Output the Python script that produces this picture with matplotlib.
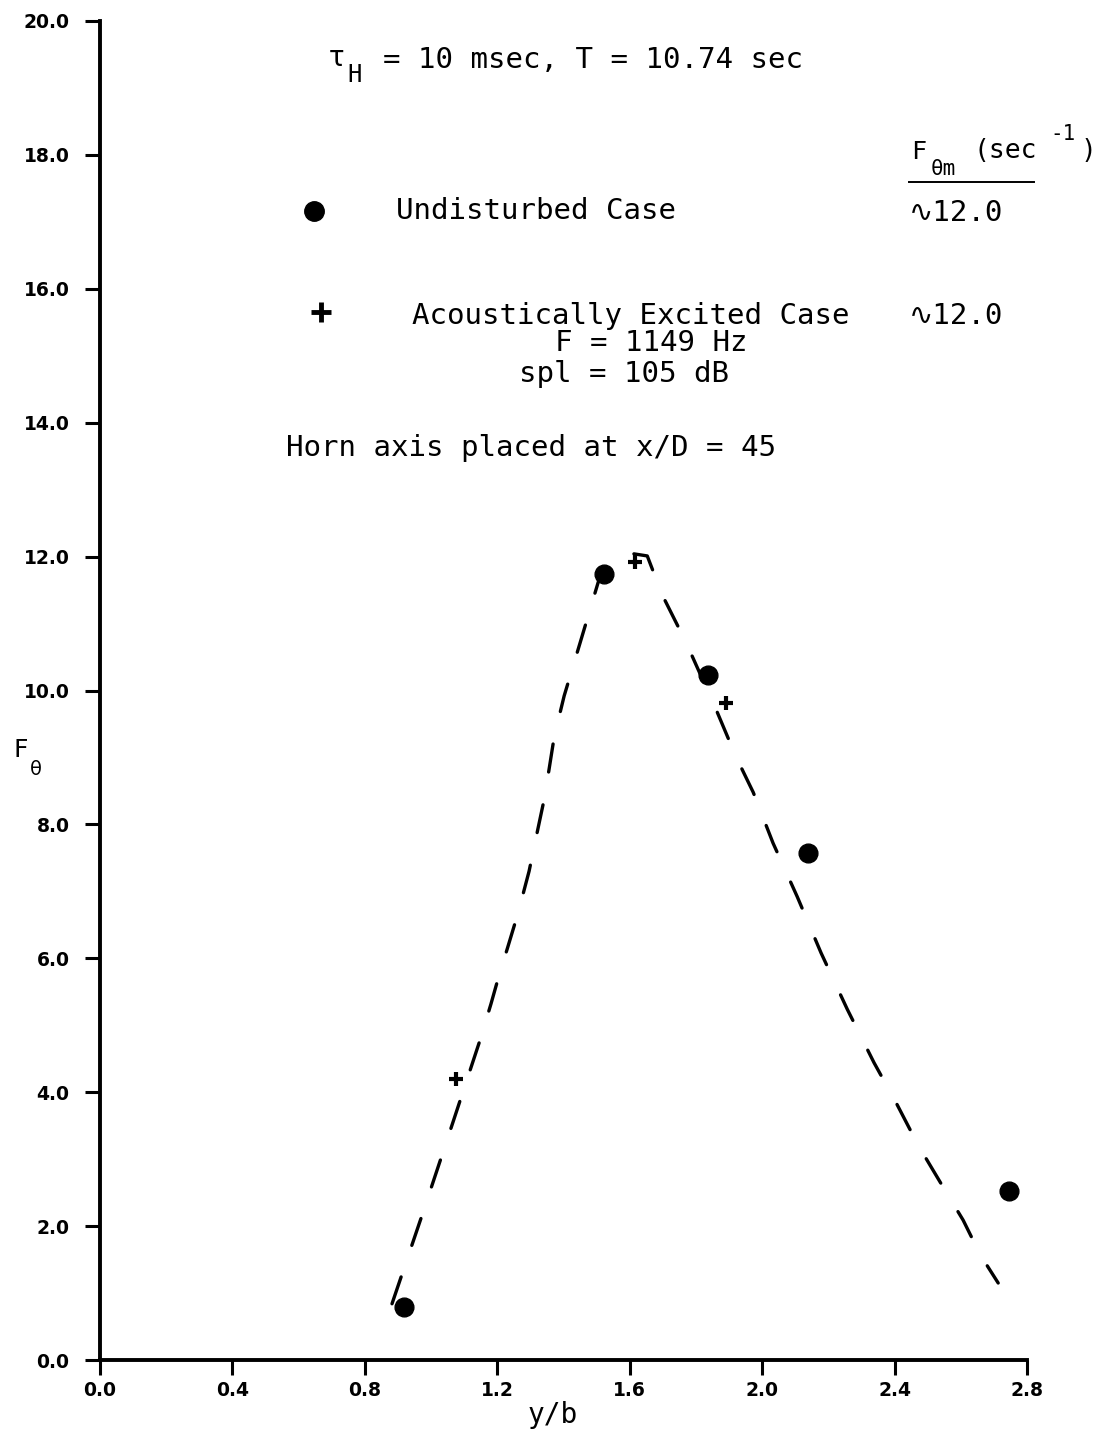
import matplotlib

matplotlib.use("Agg")
import matplotlib.pyplot as plt
from matplotlib.lines import Line2D

# dashed fit curve
curve_x = [0.882, 0.976, 1.066, 1.148, 1.181, 1.205, 1.230, 1.263, 1.296, 1.320,
           1.341, 1.356, 1.372, 1.402, 1.450, 1.505, 1.532, 1.562, 1.601, 1.653,
           1.698, 1.770, 1.864, 1.921, 1.973, 2.033, 2.106, 2.178, 2.257, 2.338,
           2.405, 2.471, 2.547, 2.607, 2.659, 2.713]
curve_y = [0.84, 2.21, 3.55, 4.78, 5.32, 5.74, 6.14, 6.68, 7.30, 7.87,
           8.36, 8.81, 9.31, 9.92, 10.71, 11.62, 11.87, 12.02, 12.05, 12.01,
           11.43, 10.72, 9.68, 9.01, 8.48, 7.72, 6.92, 6.08, 5.24, 4.44,
           3.84, 3.21, 2.58, 2.09, 1.57, 1.15]

# undisturbed case (filled dots)
undisturbed_x = [0.918, 1.523, 1.837, 2.139, 2.746]
undisturbed_y = [0.79, 11.74, 10.23, 7.57, 2.52]

# acoustically excited case (crosses)
excited_x = [1.076, 1.616, 1.891]
excited_y = [4.20, 11.92, 9.81]

xticks = [0.0, 0.4, 0.8, 1.2, 1.6, 2.0, 2.4, 2.8]
yticks = [0.0, 2.0, 4.0, 6.0, 8.0, 10.0, 12.0, 14.0, 16.0, 18.0, 20.0]

W, H = 1103, 1429
MONO = ["DejaVu Sans Mono", "DejaVu Sans"]
FS = 21


def at(px, py):
    # pixel position in the picture -> figure fraction
    return px / W, 1 - py / H


fig = plt.figure(figsize=(W / 100, H / 100), dpi=100)
ax = fig.add_axes([100 / W, 1 - 1360 / H, 927 / W, 1339 / H])

ax.plot(curve_x, curve_y, color="black", lw=2.4, dashes=(8.5, 10.0),
        dash_capstyle="round", clip_on=False)
ax.plot(undisturbed_x, undisturbed_y, "o", color="black", ms=13.5, clip_on=False)
ax.plot(excited_x, excited_y, "+", color="black", ms=10, mew=3, clip_on=False)

ax.set_xlim(0, 2.8)
ax.set_ylim(0, 20)
ax.set_xticks(xticks)
ax.set_yticks(yticks)
ax.set_xticklabels([f"{v:.1f}" for v in xticks], fontweight="bold", fontsize=13.5)
ax.set_yticklabels([f"{v:.1f}" for v in yticks], fontweight="bold", fontsize=13.5)
ax.tick_params(axis="y", direction="out", length=11, width=2.2, pad=11)
ax.tick_params(axis="x", direction="out", length=11, width=2.2, pad=4)
for side in ("top", "right"):
    ax.spines[side].set_visible(False)
for side in ("left", "bottom"):
    ax.spines[side].set_linewidth(2.8)

# axis labels
fig.text(*at(13, 750), "F", fontsize=18, va="center", ha="left")
fig.text(*at(30, 770), "θ", fontsize=14, va="center", ha="left")
fig.text(*at(553, 1415), "y/b", fontsize=20, va="center", ha="center", family=MONO)

# header
fig.text(*at(328, 58), "τ", fontsize=FS, va="center", ha="left", family=MONO)
fig.text(*at(347, 75), "H", fontsize=17, va="center", ha="left", family=MONO)
fig.text(*at(383, 60), "= 10 msec, T = 10.74 sec", fontsize=FS, va="center",
         ha="left", family=MONO)

# F_theta_m column header
fig.text(*at(911, 152), "F", fontsize=18, va="center", ha="left", family=MONO)
fig.text(*at(931, 169), "θm", fontsize=15, va="center", ha="left", family=MONO)
fig.text(*at(974, 151), "(sec", fontsize=19, va="center", ha="left", family=MONO)
fig.text(*at(1050, 134), "-1", fontsize=15, va="center", ha="left", family=MONO)
fig.text(*at(1081, 151), ")", fontsize=19, va="center", ha="left", family=MONO)
x0, y0 = at(909, 182)
x1, _ = at(1034, 182)
fig.add_artist(Line2D([x0, x1], [y0, y0], color="black", lw=1.4,
                      transform=fig.transFigure))

# legend rows
fig.add_artist(Line2D([at(314, 211)[0]], [at(314, 211)[1]], marker="o",
                      color="black", ms=14, transform=fig.transFigure))
fig.text(*at(396, 211), "Undisturbed Case", fontsize=FS, va="center",
         ha="left", family=MONO)
fig.text(*at(909, 213), "∿12.0", fontsize=FS, va="center", ha="left", family=MONO)

fig.add_artist(Line2D([at(321, 312)[0]], [at(321, 312)[1]], marker="+",
                      color="black", ms=15, mew=3.5, transform=fig.transFigure))
fig.text(*at(412, 316), "Acoustically Excited Case", fontsize=FS, va="center",
         ha="left", family=MONO)
fig.text(*at(909, 316), "∿12.0", fontsize=FS, va="center", ha="left", family=MONO)
fig.text(*at(651, 343), "F = 1149 Hz", fontsize=FS, va="center", ha="center",
         family=MONO)
fig.text(*at(624, 374), "spl = 105 dB", fontsize=FS, va="center", ha="center",
         family=MONO)

fig.text(*at(286, 448), "Horn axis placed at x/D = 45", fontsize=FS,
         va="center", ha="left", family=MONO)

fig.savefig("out.png", dpi=100)
